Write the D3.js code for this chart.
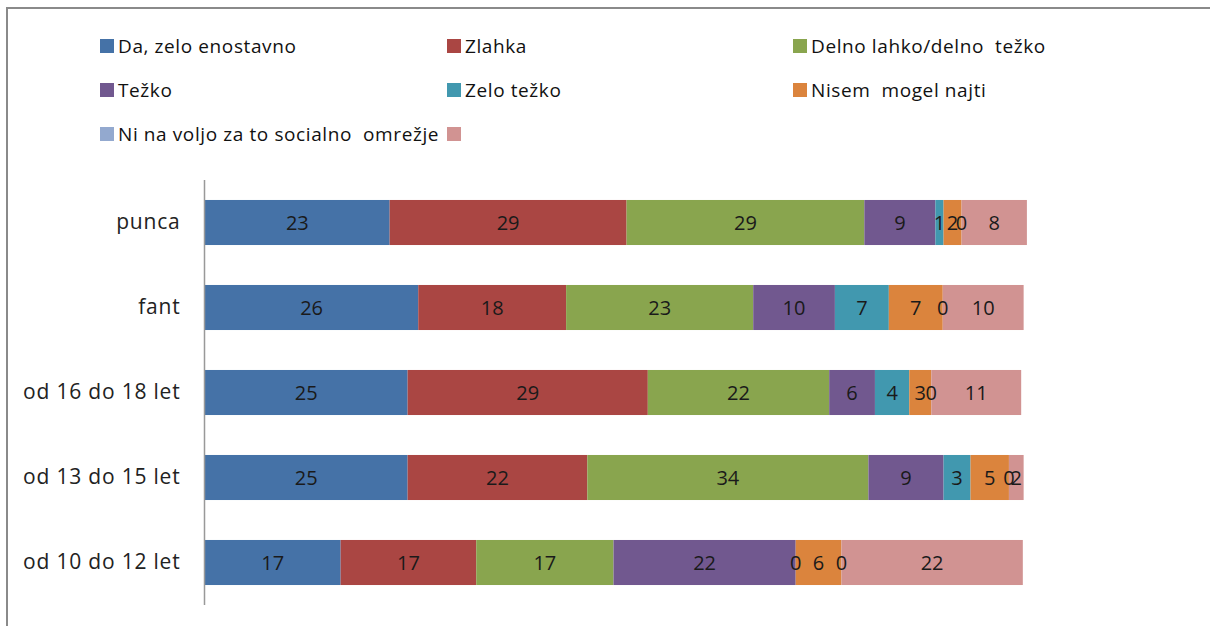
<!DOCTYPE html>
<html>
<head>
<meta charset="utf-8">
<script src="https://cdn.jsdelivr.net/npm/d3@7"></script>
<style>
  html, body { margin: 0; padding: 0; background: #fff; }
  svg { display: block; font-family: "Open Sans", "Noto Sans", sans-serif; }
</style>
</head>
<body>
<svg id="chart" width="1210" height="626"></svg>
<script>
// ---- data ----
const categories = ["punca", "fant", "od 16 do 18 let", "od 13 do 15 let", "od 10 do 12 let"];
const seriesNames = ["Da, zelo enostavno", "Zlahka", "Delno lahko/delno  težko", "Težko", "Zelo težko", "Nisem  mogel najti", "Ni na voljo za to socialno  omrežje", ""];
const daZeloEnostavno = [22.6, 26.1, 24.8, 24.8, 16.6];
const zlahka          = [29.0, 18.1, 29.4, 22.0, 16.6];
const delnoLahko      = [29.1, 22.9, 22.2, 34.4, 16.8];
const tezko           = [8.7, 10.0, 5.6, 9.2, 22.3];
const zeloTezko       = [1.0, 6.6, 4.2, 3.3, 0];
const nisemMogel      = [2.2, 6.6, 2.7, 4.7, 5.6];
const niNaVoljo       = [0, 0, 0, 0, 0];
const brez            = [8.0, 9.9, 11.0, 1.8, 22.2];
const seriesValues = [daZeloEnostavno, zlahka, delnoLahko, tezko, zeloTezko, nisemMogel, niNaVoljo, brez];
const colors = ["#4572A7", "#AA4643", "#89A54E", "#71588F", "#4198AF", "#DB843D", "#93A9CF", "#D19392"];

// ---- build table ----
const rows = categories.map((c, i) => {
  const r = { cat: c };
  seriesNames.forEach((s, j) => r["s" + j] = seriesValues[j][i]);
  return r;
});
const keys = seriesNames.map((s, j) => "s" + j);
const stacked = d3.stack().keys(keys)(rows);

const svg = d3.select("#chart");

// frame
svg.append("line").attr("x1", 6).attr("x2", 1210).attr("y1", 8).attr("y2", 8)
  .attr("stroke", "#8a8a8a").attr("stroke-width", 2);
svg.append("line").attr("x1", 7).attr("x2", 7).attr("y1", 7).attr("y2", 626)
  .attr("stroke", "#8a8a8a").attr("stroke-width", 2);

const x = d3.scaleLinear().domain([0, 100]).range([205, 1022]);
const y = d3.scaleBand().domain(categories).range([180, 605]).paddingInner(0.47).paddingOuter(0.235);

// bars
const g = svg.append("g");
stacked.forEach((layer, j) => {
  g.selectAll(null).data(layer).enter().append("rect")
    .attr("x", d => x(d[0]))
    .attr("y", d => y(d.data.cat))
    .attr("width", d => x(d[1]) - x(d[0]))
    .attr("height", y.bandwidth())
    .attr("fill", colors[j]);
});
// value labels
stacked.forEach((layer, j) => {
  g.selectAll(null).data(layer).enter().append("text")
    .attr("x", d => (x(d[0]) + x(d[1])) / 2)
    .attr("y", d => y(d.data.cat) + y.bandwidth() / 2)
    .attr("text-anchor", "middle")
    .attr("dominant-baseline", "central")
    .attr("font-size", 20)
    .attr("fill", "#1a1a1a")
    .text(d => Math.round(d[1] - d[0]));
});

// axis
const ax = svg.append("g").attr("transform", "translate(204.5,0)")
  .call(d3.axisLeft(y).tickSize(0).tickPadding(24));
ax.select(".domain").attr("stroke", "#999").attr("stroke-width", 1.5).attr("d", "M0,180V605");
ax.selectAll("text").attr("font-size", 21).attr("fill", "#222")
  .attr("letter-spacing", 0.8)
  .attr("font-family", "'Open Sans', 'Noto Sans', sans-serif");

// legend
const legX = [100, 447, 793];
const legY = [46, 90, 134];
const leg = svg.append("g");
seriesNames.forEach((s, i) => {
  const cx = legX[i % 3], cy = legY[Math.floor(i / 3)];
  leg.append("rect").attr("x", cx).attr("y", cy - 7).attr("width", 14).attr("height", 14).attr("fill", colors[i]);
  leg.append("text").attr("x", cx + 18).attr("y", cy).attr("dominant-baseline", "central")
    .attr("font-size", 19).attr("letter-spacing", 0.6).attr("fill", "#111").style("white-space", "pre").text(s);
});
</script>
</body>
</html>
